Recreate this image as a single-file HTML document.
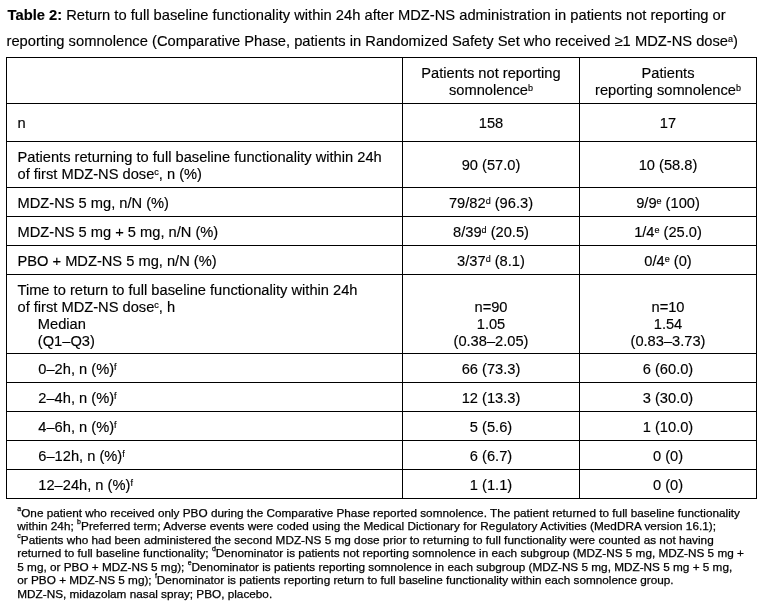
<!DOCTYPE html>
<html><head><meta charset="utf-8"><title>Table 2</title>
<style>
html,body{margin:0;padding:0;background:#fff;}
body{width:765px;height:606px;position:relative;overflow:hidden;font-family:"Liberation Sans",Arial,sans-serif;color:#000;}
#w{-webkit-text-stroke:0.15px #000;position:absolute;left:0;top:0;width:765px;height:606px;will-change:transform;background:#fff;}
.t{position:absolute;white-space:nowrap;font-size:14.667px;line-height:17px;}
.ti{font-size:14.71px;}
.fn{font-size:11.76px;line-height:14px;-webkit-text-stroke-width:0.25px;}
.c{text-align:center;}
.h{position:absolute;left:6px;width:751px;height:1px;background:#000;}
.v{position:absolute;top:57px;height:442px;width:1px;background:#000;}
sup{font-size:9px;line-height:0;vertical-align:4.5px;}
.fn sup{font-size:7px;vertical-align:6.4px;}
b{font-weight:bold;}
</style></head><body><div id="w">
<div class="h" style="top:57px"></div>
<div class="h" style="top:103px"></div>
<div class="h" style="top:141px"></div>
<div class="h" style="top:187px"></div>
<div class="h" style="top:216px"></div>
<div class="h" style="top:245px"></div>
<div class="h" style="top:274px"></div>
<div class="h" style="top:353px"></div>
<div class="h" style="top:382px"></div>
<div class="h" style="top:411px"></div>
<div class="h" style="top:440px"></div>
<div class="h" style="top:469px"></div>
<div class="h" style="top:498px"></div>
<div class="v" style="left:6px"></div>
<div class="v" style="left:402px"></div>
<div class="v" style="left:579px"></div>
<div class="v" style="left:756px"></div>
<div class="t ti" style="left:7.6px;top:7px"><b>Table 2:</b> Return to full baseline functionality within 24h after MDZ-NS administration in patients not reporting or</div>
<div class="t ti" style="left:6.5px;top:33px">reporting somnolence (Comparative Phase, patients in Randomized Safety Set who received ≥1 MDZ-NS dose<sup>a</sup>)</div>
<div class="t c" style="left:403px;width:176px;top:65px">Patients not reporting</div>
<div class="t c" style="left:403px;width:176px;top:82px">somnolence<sup>b</sup></div>
<div class="t c" style="left:580px;width:176px;top:65px">Patients</div>
<div class="t c" style="left:580px;width:176px;top:82px">reporting somnolence<sup>b</sup></div>
<div class="t" style="left:17.5px;top:115px">n</div>
<div class="t c" style="left:403px;width:176px;top:115px">158</div>
<div class="t c" style="left:580px;width:176px;top:115px">17</div>
<div class="t" style="left:17.5px;top:149px">Patients returning to full baseline functionality within 24h</div>
<div class="t" style="left:17.5px;top:166px">of first MDZ-NS dose<sup>c</sup>, n (%)</div>
<div class="t c" style="left:403px;width:176px;top:157px">90 (57.0)</div>
<div class="t c" style="left:580px;width:176px;top:157px">10 (58.8)</div>
<div class="t" style="left:17.5px;top:195px">MDZ-NS 5 mg, n/N (%)</div>
<div class="t c" style="left:403px;width:176px;top:195px">79/82<sup>d</sup> (96.3)</div>
<div class="t c" style="left:580px;width:176px;top:195px">9/9<sup>e</sup> (100)</div>
<div class="t" style="left:17.5px;top:224px">MDZ-NS 5 mg + 5 mg, n/N (%)</div>
<div class="t c" style="left:403px;width:176px;top:224px">8/39<sup>d</sup> (20.5)</div>
<div class="t c" style="left:580px;width:176px;top:224px">1/4<sup>e</sup> (25.0)</div>
<div class="t" style="left:17.5px;top:253px">PBO + MDZ-NS 5 mg, n/N (%)</div>
<div class="t c" style="left:403px;width:176px;top:253px">3/37<sup>d</sup> (8.1)</div>
<div class="t c" style="left:580px;width:176px;top:253px">0/4<sup>e</sup> (0)</div>
<div class="t" style="left:38.3px;top:361px">0–2h, n (%)<sup>f</sup></div>
<div class="t c" style="left:403px;width:176px;top:361px">66 (73.3)</div>
<div class="t c" style="left:580px;width:176px;top:361px">6 (60.0)</div>
<div class="t" style="left:38.3px;top:390px">2–4h, n (%)<sup>f</sup></div>
<div class="t c" style="left:403px;width:176px;top:390px">12 (13.3)</div>
<div class="t c" style="left:580px;width:176px;top:390px">3 (30.0)</div>
<div class="t" style="left:38.3px;top:419px">4–6h, n (%)<sup>f</sup></div>
<div class="t c" style="left:403px;width:176px;top:419px">5 (5.6)</div>
<div class="t c" style="left:580px;width:176px;top:419px">1 (10.0)</div>
<div class="t" style="left:38.3px;top:448px">6–12h, n (%)<sup>f</sup></div>
<div class="t c" style="left:403px;width:176px;top:448px">6 (6.7)</div>
<div class="t c" style="left:580px;width:176px;top:448px">0 (0)</div>
<div class="t" style="left:38.3px;top:477px">12–24h, n (%)<sup>f</sup></div>
<div class="t c" style="left:403px;width:176px;top:477px">1 (1.1)</div>
<div class="t c" style="left:580px;width:176px;top:477px">0 (0)</div>
<div class="t" style="left:17.5px;top:282px">Time to return to full baseline functionality within 24h</div>
<div class="t" style="left:17.5px;top:299px">of first MDZ-NS dose<sup>c</sup>, h</div>
<div class="t" style="left:37.8px;top:316px">Median</div>
<div class="t" style="left:37.8px;top:333px">(Q1–Q3)</div>
<div class="t c" style="left:403px;width:176px;top:299px">n=90</div>
<div class="t c" style="left:403px;width:176px;top:316px">1.05</div>
<div class="t c" style="left:403px;width:176px;top:333px">(0.38–2.05)</div>
<div class="t c" style="left:580px;width:176px;top:299px">n=10</div>
<div class="t c" style="left:580px;width:176px;top:316px">1.54</div>
<div class="t c" style="left:580px;width:176px;top:333px">(0.83–3.73)</div>
<div class="t fn" style="left:17.3px;top:506px;letter-spacing:0.0081px"><sup>a</sup>One patient who received only PBO during the Comparative Phase reported somnolence. The patient returned to full baseline functionality</div>
<div class="t fn" style="left:17.3px;top:519px;letter-spacing:0.0295px">within 24h; <sup>b</sup>Preferred term; Adverse events were coded using the Medical Dictionary for Regulatory Activities (MedDRA version 16.1);</div>
<div class="t fn" style="left:17.3px;top:533px;letter-spacing:0.0145px"><sup>c</sup>Patients who had been administered the second MDZ-NS 5 mg dose prior to returning to full functionality were counted as not having</div>
<div class="t fn" style="left:17.3px;top:546px;letter-spacing:0.0148px">returned to full baseline functionality; <sup>d</sup>Denominator is patients not reporting somnolence in each subgroup (MDZ-NS 5 mg, MDZ-NS 5 mg +</div>
<div class="t fn" style="left:17.3px;top:560px;letter-spacing:0.0096px">5 mg, or PBO + MDZ-NS 5 mg); <sup>e</sup>Denominator is patients reporting somnolence in each subgroup (MDZ-NS 5 mg, MDZ-NS 5 mg + 5 mg,</div>
<div class="t fn" style="left:17.3px;top:573px;letter-spacing:0.0072px">or PBO + MDZ-NS 5 mg); <sup>f</sup>Denominator is patients reporting return to full baseline functionality within each somnolence group.</div>
<div class="t fn" style="left:17.3px;top:587px;letter-spacing:0.0045px">MDZ-NS, midazolam nasal spray; PBO, placebo.</div>
</div></body></html>
